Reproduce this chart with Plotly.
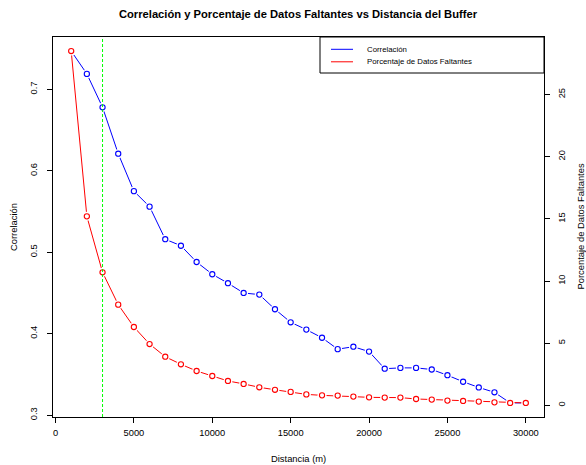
import plotly.graph_objects as go

# ---- data ----
distancia = [1000, 2000, 3000, 4000, 5000, 6000, 7000, 8000, 9000, 10000,
             11000, 12000, 13000, 14000, 15000, 16000, 17000, 18000, 19000, 20000,
             21000, 22000, 23000, 24000, 25000, 26000, 27000, 28000, 29000, 30000]
correlacion = [0.747, 0.719, 0.678, 0.621, 0.575, 0.556, 0.516, 0.508, 0.488, 0.473,
               0.462, 0.450, 0.448, 0.430, 0.414, 0.405, 0.395, 0.381, 0.384, 0.378,
               0.357, 0.358, 0.358, 0.356, 0.349, 0.341, 0.334, 0.328, 0.315, 0.315]
faltantes = [28.5, 15.2, 10.7, 8.1, 6.3, 4.93, 3.91, 3.30, 2.76, 2.36,
             1.96, 1.72, 1.45, 1.25, 1.08, 0.88, 0.80, 0.78, 0.70, 0.64,
             0.62, 0.62, 0.51, 0.46, 0.38, 0.35, 0.30, 0.24, 0.19, 0.19]
buffer_optimo = 3000
x_ticks = [0, 5000, 10000, 15000, 20000, 25000, 30000]
x_ticklabels = ["0", "5000", "10000", "15000", "20000", "25000", "30000"]
y_ticks = [0.3, 0.4, 0.5, 0.6, 0.7]
y_ticklabels = ["0.3", "0.4", "0.5", "0.6", "0.7"]
y2_ticks = [0, 5, 10, 15, 20, 25]
y2_ticklabels = ["0", "5", "10", "15", "20", "25"]

FONT = "Liberation Sans, Arial, sans-serif"
W, H = 586, 465
L, R, T, B = 53, 544, 37, 417
pw, ph = R - L, B - T


def px(x):
    return (x - L) / pw


def py(y):
    return (B - y) / ph


BLUE = "#0000FF"
RED = "#FF0000"

fig = go.Figure()
# connecting lines
fig.add_trace(go.Scatter(x=distancia, y=correlacion, mode="lines",
                         line=dict(color=BLUE, width=1), yaxis="y", showlegend=False,
                         hoverinfo="skip"))
fig.add_trace(go.Scatter(x=distancia, y=correlacion, mode="markers",
                         marker=dict(symbol="circle", size=9, color="white",
                                     line=dict(width=0)),
                         yaxis="y", showlegend=False, hoverinfo="skip"))
fig.add_trace(go.Scatter(x=distancia, y=correlacion, mode="markers", name="Correlación",
                         marker=dict(symbol="circle-open", size=5.2, color=BLUE,
                                     line=dict(width=1.1, color=BLUE)),
                         yaxis="y", showlegend=False))
fig.add_trace(go.Scatter(x=distancia, y=faltantes, mode="lines",
                         line=dict(color=RED, width=1), yaxis="y2", showlegend=False,
                         hoverinfo="skip"))
fig.add_trace(go.Scatter(x=distancia, y=faltantes, mode="markers",
                         marker=dict(symbol="circle", size=9, color="white",
                                     line=dict(width=0)),
                         yaxis="y2", showlegend=False, hoverinfo="skip"))
fig.add_trace(go.Scatter(x=distancia, y=faltantes, mode="markers",
                         name="Porcentaje de Datos Faltantes",
                         marker=dict(symbol="circle-open", size=5.2, color=RED,
                                     line=dict(width=1.1, color=RED)),
                         yaxis="y2", showlegend=False))

shapes = [
    # vertical reference line
    dict(type="line", xref="x", yref="paper", x0=buffer_optimo, x1=buffer_optimo,
         y0=0, y1=1, line=dict(color="#00FF00", width=1, dash="3px,2px"), layer="above"),
    # legend box
    dict(type="rect", xref="paper", yref="paper", x0=px(320), x1=1, y0=py(73), y1=1,
         line=dict(color="black", width=1), fillcolor="white", layer="above"),
    dict(type="line", xref="paper", yref="paper", x0=px(331), x1=px(353),
         y0=py(49.3), y1=py(49.3), line=dict(color=BLUE, width=1), layer="above"),
    dict(type="line", xref="paper", yref="paper", x0=px(331), x1=px(353),
         y0=py(61.8), y1=py(61.8), line=dict(color=RED, width=1), layer="above"),
]

annotations = [
    dict(text="Correlación", xref="paper", yref="paper", x=px(365), y=py(49.3),
         xanchor="left", yanchor="middle", showarrow=False,
         font=dict(family=FONT, size=7.8, color="black")),
    dict(text="Porcentaje de Datos Faltantes", xref="paper", yref="paper", x=px(365),
         y=py(61.8), xanchor="left", yanchor="middle", showarrow=False,
         font=dict(family=FONT, size=7.8, color="black")),
    dict(text="Distancia (m)", xref="paper", yref="paper", x=0.5, y=py(458),
         xanchor="center", yanchor="middle", showarrow=False,
         font=dict(family=FONT, size=9.4, color="black")),
    dict(text="Correlación", xref="paper", yref="paper", x=px(13), y=0.5,
         xanchor="center", yanchor="middle", showarrow=False, textangle=-90,
         font=dict(family=FONT, size=9.4, color="black")),
    dict(text="Porcentaje de Datos Faltantes", xref="paper", yref="paper", x=px(579.5),
         y=0.5, xanchor="center", yanchor="middle", showarrow=False, textangle=-90,
         font=dict(family=FONT, size=9.4, color="black")),
]

axis_common = dict(showgrid=False, zeroline=False, showline=True, linecolor="black",
                   linewidth=1, ticks="outside", ticklen=5, tickwidth=1,
                   tickcolor="black",
                   tickfont=dict(family=FONT, size=9.3, color="black"))

fig.update_layout(
    width=W, height=H,
    margin=dict(l=L, r=W - R, t=T, b=H - B, autoexpand=False),
    paper_bgcolor="white", plot_bgcolor="white",
    title=dict(text="Correlación y Porcentaje de Datos Faltantes vs Distancia del Buffer",
               x=298 / W, xanchor="center", y=1 - 14.5 / H, yanchor="middle",
               xref="container",
               font=dict(family=FONT, size=11.2, color="black", weight="bold")),
    xaxis=dict(range=[-160, 31160], tickvals=x_ticks, ticktext=x_ticklabels,
               mirror=True, ticklabelstandoff=2, **axis_common),
    yaxis=dict(range=[0.2977, 0.7643], tickvals=y_ticks, ticktext=y_ticklabels,
               tickangle=-90, mirror=True, ticklabelstandoff=6, **axis_common),
    yaxis2=dict(range=[-0.94, 29.63], tickvals=y2_ticks, ticktext=y2_ticklabels,
                overlaying="y", side="right", tickangle=-90, ticklabelstandoff=4,
                **axis_common),
    shapes=shapes, annotations=annotations, showlegend=False,
)

fig.write_html("out.html")
